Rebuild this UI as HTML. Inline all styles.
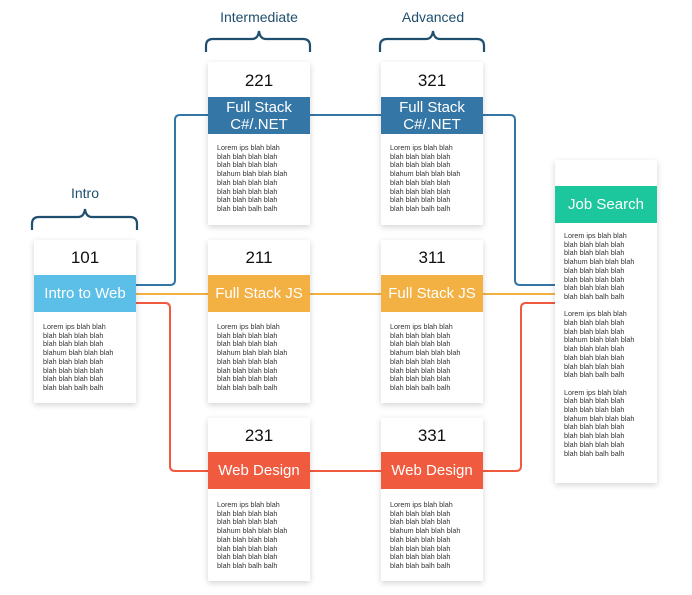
<!DOCTYPE html>
<html><head><meta charset="utf-8"><style>
body{margin:0;width:692px;height:595px;background:#fff;position:relative;overflow:hidden;font-family:"Liberation Sans",sans-serif}
.card{position:absolute;width:102px;background:#fff;box-shadow:0 2px 6px rgba(0,0,0,.18)}
.num{position:absolute;left:0;right:0;text-align:center;font-size:17px;color:#111}
.band{position:absolute;left:0;right:0;height:37px;color:#fff;text-align:center;font-size:15px;display:flex;align-items:center;justify-content:center;line-height:17px}
.txt{position:absolute;left:9px;font-size:7.2px;line-height:8.7px;color:#333;white-space:pre}
.lbl{position:absolute;font-size:14px;color:#1f4e6e;text-align:center}
</style></head><body>
<svg width="692" height="595" style="position:absolute;left:0;top:0">
<g fill="none" stroke-width="2">
<path d="M136 285 H170 Q175 285 175 280 V120 Q175 115 180 115 H381" stroke="#3476a6"/>
<path d="M483 115 H510 Q515 115 515 120 V280 Q515 285 520 285 H555" stroke="#3476a6"/>
<path d="M136 294 H555" stroke="#f3b043"/>
<path d="M136 303 H165 Q170 303 170 308 V466 Q170 471 175 471 H381" stroke="#f05a3f"/>
<path d="M483 471 H516 Q521 471 521 466 V308 Q521 303 526 303 H555" stroke="#f05a3f"/>
</g>
<g fill="none" stroke="#1f4e6e" stroke-width="2.2">
<path d="M32 230 V224 Q32 217 39 217 H78 Q84 217 85 209 Q86 217 92 217 H130 Q137 217 137 224 V230"/>
<path d="M206 52 V46 Q206 39 213 39 H252 Q258 39 259 31 Q260 39 266 39 H303 Q310 39 310 46 V52"/>
<path d="M380 52 V46 Q380 39 387 39 H426 Q432 39 433 31 Q434 39 440 39 H477 Q484 39 484 46 V52"/>
</g>
</svg>
<div class="lbl" style="left:60px;top:185px;width:50px">Intro</div>
<div class="lbl" style="left:199px;top:9px;width:120px">Intermediate</div>
<div class="lbl" style="left:373px;top:9px;width:120px">Advanced</div>

<div class="card" style="left:34px;top:240px;height:163px"><div class="num" style="top:8px">101</div><div class="band" style="top:35px;background:#5bbfe8">Intro to Web</div><div class="txt" style="top:83px">Lorem ips blah blah
blah blah blah blah
blah blah blah blah
blahum blah blah blah
blah blah blah blah
blah blah blah blah
blah blah blah blah
blah blah balh balh</div></div>

<div class="card" style="left:208px;top:62px;height:163px"><div class="num" style="top:9px">221</div><div class="band" style="top:35px;background:#3476a6">Full Stack<br>C#/.NET</div><div class="txt" style="top:82px">Lorem ips blah blah
blah blah blah blah
blah blah blah blah
blahum blah blah blah
blah blah blah blah
blah blah blah blah
blah blah blah blah
blah blah balh balh</div></div>
<div class="card" style="left:381px;top:62px;height:163px"><div class="num" style="top:9px">321</div><div class="band" style="top:35px;background:#3476a6">Full Stack<br>C#/.NET</div><div class="txt" style="top:82px">Lorem ips blah blah
blah blah blah blah
blah blah blah blah
blahum blah blah blah
blah blah blah blah
blah blah blah blah
blah blah blah blah
blah blah balh balh</div></div>

<div class="card" style="left:208px;top:240px;height:163px"><div class="num" style="top:8px">211</div><div class="band" style="top:35px;background:#f3b043">Full Stack JS</div><div class="txt" style="top:83px">Lorem ips blah blah
blah blah blah blah
blah blah blah blah
blahum blah blah blah
blah blah blah blah
blah blah blah blah
blah blah blah blah
blah blah balh balh</div></div>
<div class="card" style="left:381px;top:240px;height:163px"><div class="num" style="top:8px">311</div><div class="band" style="top:35px;background:#f3b043">Full Stack JS</div><div class="txt" style="top:83px">Lorem ips blah blah
blah blah blah blah
blah blah blah blah
blahum blah blah blah
blah blah blah blah
blah blah blah blah
blah blah blah blah
blah blah balh balh</div></div>

<div class="card" style="left:208px;top:418px;height:163px"><div class="num" style="top:8px">231</div><div class="band" style="top:34px;background:#f05a3f">Web Design</div><div class="txt" style="top:83px">Lorem ips blah blah
blah blah blah blah
blah blah blah blah
blahum blah blah blah
blah blah blah blah
blah blah blah blah
blah blah blah blah
blah blah balh balh</div></div>
<div class="card" style="left:381px;top:418px;height:163px"><div class="num" style="top:8px">331</div><div class="band" style="top:34px;background:#f05a3f">Web Design</div><div class="txt" style="top:83px">Lorem ips blah blah
blah blah blah blah
blah blah blah blah
blahum blah blah blah
blah blah blah blah
blah blah blah blah
blah blah blah blah
blah blah balh balh</div></div>

<div class="card" style="left:555px;top:160px;height:323px"><div class="band" style="top:26px;background:#1dc79d">Job Search</div><div class="txt" style="top:72px">Lorem ips blah blah
blah blah blah blah
blah blah blah blah
blahum blah blah blah
blah blah blah blah
blah blah blah blah
blah blah blah blah
blah blah balh balh

Lorem ips blah blah
blah blah blah blah
blah blah blah blah
blahum blah blah blah
blah blah blah blah
blah blah blah blah
blah blah blah blah
blah blah balh balh

Lorem ips blah blah
blah blah blah blah
blah blah blah blah
blahum blah blah blah
blah blah blah blah
blah blah blah blah
blah blah blah blah
blah blah balh balh</div></div>
</body></html>
